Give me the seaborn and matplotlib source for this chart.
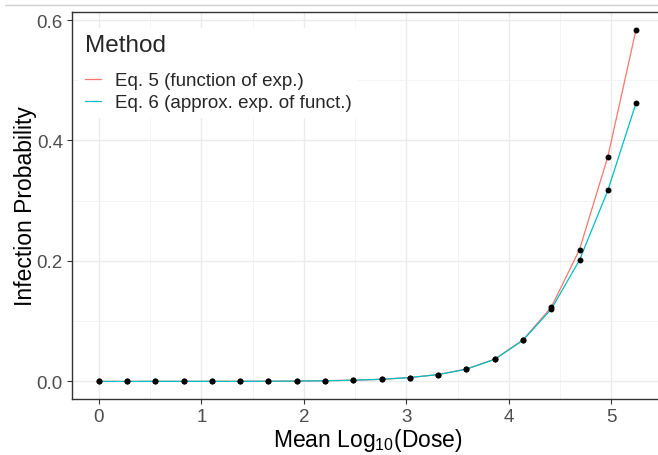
import pandas as pd
import matplotlib.pyplot as plt
import seaborn as sns
from matplotlib.lines import Line2D

# Mean log10 dose (x) and infection probability for the two methods
log_dose = [0.000, 0.276, 0.552, 0.828, 1.103, 1.379, 1.655, 1.931, 2.207, 2.483,
            2.759, 3.034, 3.310, 3.586, 3.862, 4.138, 4.414, 4.690, 4.966, 5.241]
eq5 = [0.0000, 0.0000, 0.0001, 0.0001, 0.0001, 0.0002, 0.0003, 0.0006, 0.0011, 0.0020,
       0.0035, 0.0064, 0.0114, 0.0205, 0.0370, 0.0690, 0.1230, 0.2190, 0.3730, 0.5840]
eq6 = [0.0000, 0.0000, 0.0001, 0.0001, 0.0001, 0.0002, 0.0003, 0.0006, 0.0011, 0.0020,
       0.0035, 0.0064, 0.0113, 0.0203, 0.0366, 0.0682, 0.1200, 0.2015, 0.3170, 0.4620]
methods = ["Eq. 5 (function of exp.)", "Eq. 6 (approx. exp. of funct.)"]
colors = ["#F8766D", "#00BFC4"]

df = pd.concat([
    pd.DataFrame({"dose": log_dose, "prob": eq5, "Method": methods[0]}),
    pd.DataFrame({"dose": log_dose, "prob": eq6, "Method": methods[1]}),
])

sns.set_style("white")
plt.rcParams["font.family"] = ["Liberation Sans", "DejaVu Sans"]
plt.rcParams["mathtext.fontset"] = "custom"
plt.rcParams["mathtext.rm"] = "Liberation Sans"
plt.rcParams["mathtext.default"] = "regular"

fig = plt.figure(figsize=(6.58, 4.56), dpi=100)
ax = fig.add_axes([0.1094, 0.1228, 0.898, 0.8487])

sns.lineplot(data=df, x="dose", y="prob", hue="Method", hue_order=methods,
             palette=colors, linewidth=0.9, ax=ax)
sns.scatterplot(data=df, x="dose", y="prob", color="black", s=18,
                linewidth=0, legend=False, ax=ax, zorder=3)

ax.set_xlim(-0.262, 5.503)
ax.set_ylim(-0.0292, 0.6133)
ax.set_xticks([0, 1, 2, 3, 4, 5])
ax.set_yticks([0.0, 0.2, 0.4, 0.6])
ax.set_yticklabels(["0.0", "0.2", "0.4", "0.6"])
ax.set_xticks([0.5, 1.5, 2.5, 3.5, 4.5], minor=True)
ax.set_yticks([0.1, 0.3, 0.5], minor=True)
ax.grid(which="major", color="#EBEBEB", linewidth=1.0)
ax.grid(which="minor", color="#F2F2F2", linewidth=0.6)
ax.set_axisbelow(True)
for s in ax.spines.values():
    s.set_color("#333333")
    s.set_linewidth(1.0)
ax.tick_params(which="major", length=3.5, width=0.8, color="#333333",
               labelsize=13.5, labelcolor="#4D4D4D", pad=3, left=True, bottom=True)
ax.tick_params(which="minor", length=0)

ax.set_xlabel("Mean Log$_{10}$(Dose)", fontsize=16.5, color="black", labelpad=1)
ax.set_ylabel("Infection Probability", fontsize=16.5, color="black", labelpad=0)

handles = [Line2D([], [], color=c, linewidth=0.9) for c in colors]
leg = ax.legend(handles, methods, title="Method", loc="upper left",
                bbox_to_anchor=(-0.004, 0.983), fontsize=13.5, title_fontsize=17.5,
                frameon=True, fancybox=False, edgecolor="white", framealpha=1,
                handlelength=0.9, handletextpad=0.7, labelspacing=0.25,
                borderpad=0.3)
leg._legend_box.align = "left"
leg._legend_box.sep = 12

fig.add_artist(Line2D([0.008, 1.0], [0.987, 0.987], color="#D0D0D0", linewidth=1.0))

fig.savefig("out.png", dpi=100)
